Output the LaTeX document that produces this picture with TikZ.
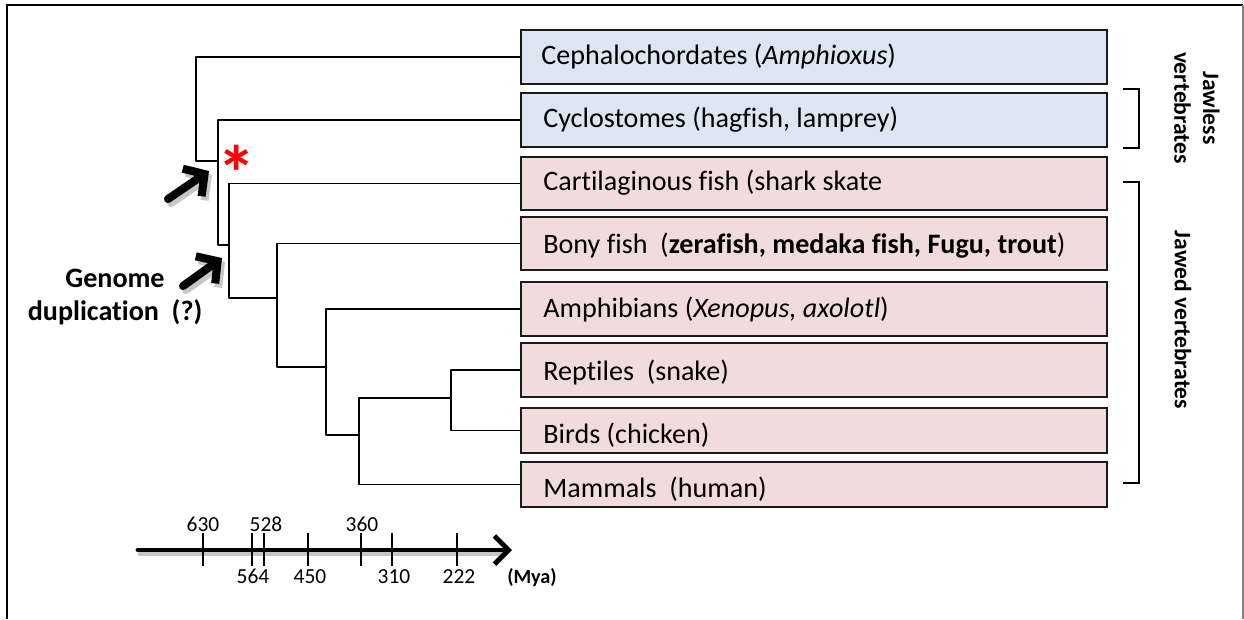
\documentclass[tikz,border=0pt]{standalone}
\usepackage{fontspec}
\setmainfont{Carlito}[Ligatures=NoCommon]
\usetikzlibrary{arrows.meta}

\begin{document}
\begin{tikzpicture}[x=0.02cm, y=-0.02cm,
    taxon/.style={draw=borderColour, line width=1.1pt, minimum width=11.72cm, inner sep=0pt},
    taxonText/.style={anchor=base west, inner sep=0pt, font=\fontsize{16}{19}\selectfont},
    branch/.style={line width=0.9pt, line join=round},
    fatArrow/.style={line width=4.6pt, line cap=round, line join=round, -{Straight Barb[length=8.5pt, width=19pt]}},
    fatShadow/.style={fatArrow, black!22},
    tickLabel/.style={anchor=base, inner sep=0pt, font=\fontsize{12.2}{14}\selectfont}]

    % Colours
    \definecolor{borderColour}{HTML}{1A1A1A}
    \definecolor{fillColourJawless}{HTML}{DCE6F2}
    \definecolor{fillColourJawed}{HTML}{F2DCDB}

    \useasboundingbox (0,0) rectangle (1244,619);

    % Frame
    \draw[line width=1.3pt] (7,619) -- (7,5) -- (1243,5);
    \draw[gray, line width=0.6pt] (1243,5) -- (1243,619);

    % Taxon boxes
    \node[taxon, fill=fillColourJawless, minimum height=1.08cm] (cephalo) at (814,57) {};
    \node[taxon, fill=fillColourJawless, minimum height=1.08cm] (cyclo) at (814,120) {};
    \node[taxon, fill=fillColourJawed, minimum height=1.06cm] (cartil) at (814,183.5) {};
    \node[taxon, fill=fillColourJawed, minimum height=1.06cm] (bony) at (814,243.5) {};
    \node[taxon, fill=fillColourJawed, minimum height=1.08cm] (amphib) at (814,309) {};
    \node[taxon, fill=fillColourJawed, minimum height=1.08cm] (reptile) at (814,370) {};
    \node[taxon, fill=fillColourJawed, minimum height=0.90cm] (bird) at (814,430.5) {};
    \node[taxon, fill=fillColourJawed, minimum height=0.90cm] (mammal) at (814,484.5) {};

    \node[taxonText] (cephaloText) at (541,64) {Cephalochordates (\textit{Amphioxus})};
    \node[taxonText] (cycloText) at (543,127) {Cyclostomes (hagfish, lamprey)};
    \node[taxonText] (cartilText) at (543,190) {Cartilaginous fish (shark skate};
    \node[taxonText] (bonyText) at (543,253) {Bony fish\ \ (\textbf{zerafish, medaka fish, Fugu, trout})};
    \node[taxonText] (amphibText) at (543,317) {Amphibians (\textit{Xenopus, axolotl})};
    \node[taxonText] (reptileText) at (543,380) {Reptiles\ \ (snake)};
    \node[taxonText] (birdText) at (543,443) {Birds (chicken)};
    \node[taxonText] (mammalText) at (543,497) {Mammals\ \ (human)};

    % Tree
    \coordinate (root) at (196,161);
    \coordinate (vert) at (218,161);
    \coordinate (gnath) at (229,245);
    \coordinate (oste) at (277,298);
    \coordinate (tetra) at (326,367);
    \coordinate (amnio) at (359,435);
    \coordinate (sauro) at (451,398);

    \draw[branch] (cephalo.west) -| (root) -- (vert);
    \draw[branch] (cyclo.west) -| (vert) |- (gnath);
    \draw[branch] (cartil.west) -| (gnath) |- (oste);
    \draw[branch] (bony.west) -| (oste) |- (tetra);
    \draw[branch] (amphib.west) -| (tetra) |- (amnio);
    \draw[branch] (mammal.west) -| (amnio) |- (sauro);
    \draw[branch] (reptile.west) -| (sauro) |- (bird.west);

    % Asterisk
    \node[anchor=north, inner sep=0pt, text=red, font=\bfseries\fontsize{44}{44}\selectfont] (star) at (237,145) {*};

    % Duplication arrows
    \coordinate (tailA) at (168,199);
    \coordinate (tipA) at (209,171);
    \coordinate (tailB) at (183,286);
    \coordinate (tipB) at (222,258);
    \draw[fatShadow] ([shift={(3,4)}]tailA) -- ([shift={(3,4)}]tipA);
    \draw[fatShadow] ([shift={(3,4)}]tailB) -- ([shift={(3,4)}]tipB);
    \draw[fatArrow] (tailA) -- (tipA);
    \draw[fatArrow] (tailB) -- (tipB);

    \node[anchor=base, inner sep=0pt, font=\bfseries\fontsize{16}{19}\selectfont] (genome) at (115,287) {Genome};
    \node[anchor=base, inner sep=0pt, font=\bfseries\fontsize{16}{19}\selectfont] (dupl) at (115,320) {duplication\ \ (?)};

    % Group brackets
    \draw[line width=0.8pt] (1123,89) -- (1139,89) -- (1139,148) -- (1123,148);
    \draw[line width=0.8pt] (1123,182) -- (1139,182) -- (1139,483) -- (1123,483);
    \node[rotate=-90, align=center, inner sep=0pt, font=\bfseries\fontsize{13.4}{16.4}\selectfont] (jawless) at (1197,108) {Jawless\\vertebrates};
    \node[rotate=-90, inner sep=0pt, font=\bfseries\fontsize{13.4}{16.4}\selectfont] (jawed) at (1183,320) {Jawed vertebrates};

    % Time axis
    \coordinate (axisStart) at (138,550);
    \coordinate (axisEnd) at (512,550);
    \draw[line width=2.8pt, black!22, line cap=round] ([shift={(2,4)}]axisStart) -- ([shift={(-8,4)}]axisEnd);
    \draw[line width=2.8pt, line cap=round, line join=round, -{Straight Barb[length=8pt, width=16pt]}] (axisStart) -- (axisEnd);
    \foreach \x in {203,252,264,308,361,392,457}
        \draw[line width=0.9pt] (\x,533) -- (\x,566);
    \foreach \x/\lab in {203/630, 266/528, 362/360}
        \node[tickLabel] at (\x,531) {\lab};
    \foreach \x/\lab in {253/564, 310/450, 394/310, 459/222}
        \node[tickLabel] at (\x,583) {\lab};
    \node[anchor=base, inner sep=0pt, font=\bfseries\fontsize{11.5}{14}\selectfont] (mya) at (532,583) {(Mya)};

\end{tikzpicture}
\end{document}
